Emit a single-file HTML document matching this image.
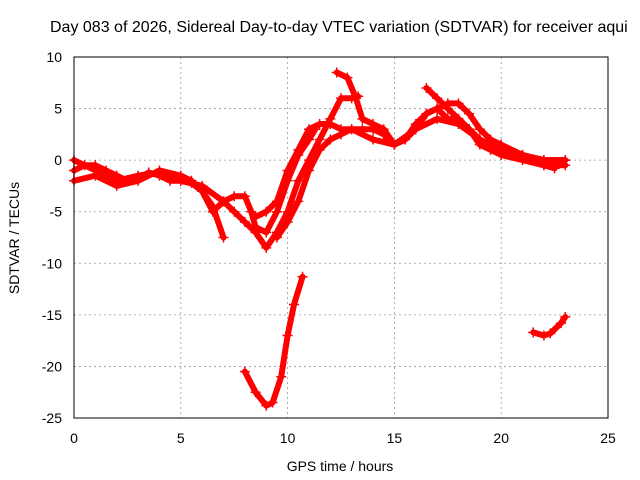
<!DOCTYPE html>
<html><head><meta charset="utf-8"><style>
body{margin:0;background:#fff;}
svg{display:block;font-family:"Liberation Sans",sans-serif;}
</style></head><body>
<svg id="chart" width="640" height="480">
<rect width="640" height="480" fill="#fff"/>
<text x="50" y="32" font-size="16">Day 083 of 2026, Sidereal Day-to-day VTEC variation (SDTVAR) for receiver aqui</text>
<text x="340" y="471" font-size="14" text-anchor="middle">GPS time / hours</text>
<text transform="translate(19,238) rotate(-90)" font-size="14" text-anchor="middle">SDTVAR / TECUs</text>
<g id="grid"></g><g id="ticks"></g><g id="series"></g>
<rect x="74" y="57" width="534" height="361" fill="none" stroke="#000" stroke-width="1"/>
</svg>
<script>
const xTicks=[0,5,10,15,20,25];
const yTicks=[10,5,0,-5,-10,-15,-20,-25];
const trackA=[[0,-1],[0.5,-0.5],[1,-0.5],[1.5,-1],[2,-1.5],[2.5,-2],[3,-1.8],[3.5,-1.2],[4,-1.5],[4.5,-2],[5,-2],[5.5,-2.2],[6,-3],[6.5,-4.5],[7,-7.5]];
const trackB=[[0,-2],[1,-1.5],[2,-2.5],[3,-2],[4,-1],[5,-1.5],[5.5,-2],[6,-3],[6.5,-5],[7,-4],[7.5,-3.5],[8,-3.5],[8.3,-5],[8.5,-6.5],[9,-7],[9.5,-5],[10,-2],[10.5,0.5],[11,2],[11.3,3]];
const trackC=[[0,0],[1,-1],[2,-2],[3,-1.5],[4,-1.2],[5,-2],[6,-2.5],[7,-4],[7.5,-5],[8,-6],[8.5,-7],[9,-8.5],[9.5,-7],[10,-5],[10.5,-2],[11,0],[11.5,2],[12,4],[12.5,6],[13,6],[13.3,6.2]];
const trackD=[[8.5,-5.5],[9,-5],[9.5,-4],[10,-1],[10.5,1],[11,3],[11.5,3.5],[12,3.5],[12.5,3],[13,3],[13.5,3],[14,3],[14.5,2.5],[15,1.5],[15.5,2],[16,3.5],[16.5,4.5],[17,5],[17.5,4],[18,4],[18.5,3],[19,1.5],[19.5,1],[20,0.5],[21,0],[22,-0.5],[23,-0.5]];
const trackE=[[9.5,-7.5],[10,-6],[10.5,-4],[11,-1],[11.5,1],[12,2],[12.5,2.5],[13,3],[14,2],[15,1.5],[16,3],[17,4],[18,3.5],[19,2],[20,1],[21,0.5],[22,0],[23,0]];
const trackF=[[12.3,8.5],[12.8,8],[13.2,6],[13.5,4],[14,3.5],[14.5,3],[15,1.5],[15.5,2],[16,3],[16.5,4.5],[17,5],[17.5,5.5],[18,5.5],[18.5,4.5],[19,3],[19.5,2],[20,1.5],[21,0.5],[22,-0.5],[22.5,-0.8]];
const trackG=[[16.5,7],[17,6],[17.5,5],[18,4],[18.5,3],[19,2],[19.5,1.5],[20,1],[21,0.5],[22,0],[23,0]];
const trackH=[[8,-20.5],[8.5,-22.5],[9,-23.8],[9.3,-23.5],[9.7,-21],[10,-17],[10.3,-14],[10.7,-11.3]];
const trackI=[[21.5,-16.7],[22,-17],[22.3,-16.8],[22.8,-15.8],[23,-15.2]];
const tracks=[trackA,trackB,trackC,trackD,trackE,trackF,trackG,trackH,trackI];
const NS="http://www.w3.org/2000/svg";
const X=v=>74+v*(534/25), Y=v=>57+(10-v)*(361/35);
function mk(t,a,parent){const e=document.createElementNS(NS,t);for(const k in a)e.setAttribute(k,a[k]);parent.appendChild(e);return e;}
const grid=document.getElementById('grid'),ticks=document.getElementById('ticks'),ser=document.getElementById('series');
xTicks.forEach(t=>{
 if(t>0&&t<25){const g=mk('line',{x1:X(t),x2:X(t),y1:57,y2:418,stroke:'#999','stroke-dasharray':'2,3','stroke-width':0.8},grid);
 
 }
 const tx=mk('text',{x:X(t),y:443,'font-size':14,'text-anchor':'middle'},ticks);tx.textContent=t;
 
 
});
yTicks.forEach(t=>{
 if(t<10&&t>-25){const g=mk('line',{x1:74,x2:608,y1:Y(t),y2:Y(t),stroke:'#999','stroke-dasharray':'2,3','stroke-width':0.8},grid);
 
 }
 const tx=mk('text',{x:62,y:Y(t)+5,'font-size':14,'text-anchor':'end'},ticks);tx.textContent=t;
 
 
});
tracks.forEach((tr,i)=>{
 const p=mk('polyline',{points:tr.map(d=>X(d[0])+','+Y(d[1])).join(' '),fill:'none',stroke:'#f00','stroke-width':6,'stroke-linejoin':'round','stroke-linecap':'round'},ser);
 
 
 tr.forEach(d=>{
  const m=mk('path',{d:`M${X(d[0])-5},${Y(d[1])}h10M${X(d[0])},${Y(d[1])-5}v10`,stroke:'#f00','stroke-width':1.5},ser);
  
  
 });
});
</script>
</body></html>
